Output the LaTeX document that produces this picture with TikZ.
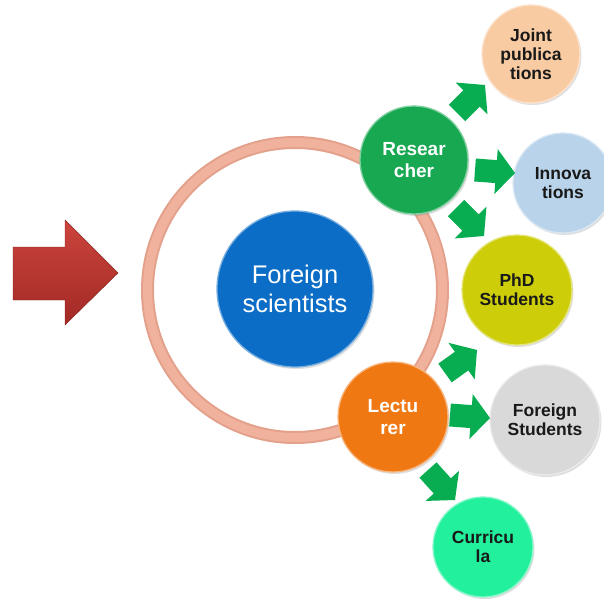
\documentclass[tikz,border=0pt]{standalone}
\usepackage{fontspec}
\setmainfont{Liberation Sans}
\usetikzlibrary{calc,shadows}
\definecolor{ringc}{HTML}{E3A08B}
\definecolor{ringl}{HTML}{F1B29D}
\definecolor{bluec}{HTML}{0B6DC6}
\definecolor{resc}{HTML}{18A852}
\definecolor{lecc}{HTML}{F07812}
\definecolor{jointc}{HTML}{F9CBA2}
\definecolor{innoc}{HTML}{B8D3EA}
\definecolor{phdc}{HTML}{CDCD0A}
\definecolor{fstc}{HTML}{D9D9D9}
\definecolor{curc}{HTML}{22F09C}
\definecolor{arrowg}{HTML}{07AD50}
\definecolor{redtop}{HTML}{CC443D}
\definecolor{redbot}{HTML}{A22925}
\tikzset{
  bubble/.style={circle, inner sep=0pt, align=center, fill=#1, draw=#1!55!white, line width=1.3pt,
    drop shadow={opacity=0.25, shadow xshift=1.5pt, shadow yshift=-2pt}},
  bigtxt/.style={text=white, font=\fontsize{25.5}{29}\selectfont},
  midtxt/.style={text=white, font=\bfseries\fontsize{19}{22}\selectfont},
  smalltxt/.style={text=black!90, font=\bfseries\fontsize{17.5}{19}\selectfont},
}
\newcommand\greenarrow[2]{%
  \coordinate (#1hb) at ($(#2)!19pt!(#1)$);
  \fill[arrowg] ($(#1)!11.5pt!90:(#2)$) -- ($(#1hb)!11.5pt!-90:(#1)$) -- ($(#1hb)!22.5pt!-90:(#1)$)
    -- (#2) -- ($(#1hb)!22.5pt!90:(#1)$) -- ($(#1hb)!11.5pt!90:(#1)$) -- ($(#1)!11.5pt!-90:(#2)$) -- cycle;
}
\begin{document}
\begin{tikzpicture}[x=1pt,y=-1pt]
\useasboundingbox (0,0) rectangle (604,599);
% red arrow
\shade[top color=redtop, bottom color=redbot, draw=redbot!80!black, line width=0.4pt]
  (13,247) -- (65,247) -- (65,220) -- (118,273) -- (65,325) -- (65,300) -- (13,300) -- cycle;
% ring
\node[circle, minimum size=295pt, inner sep=0pt, draw=ringc, line width=13pt] (ring) at (295,290) {};
\draw[ringl, line width=9pt] (ring.center) circle (147.5pt);
% centre
\node[bubble=bluec, minimum size=156pt, bigtxt] (fs) at (295,289) {Foreign\\scientists};
% main roles
\node[bubble=resc, minimum size=108pt, midtxt] (res) at (414,160) {Resear\\cher};
\node[bubble=lecc, minimum size=110pt, midtxt] (lec) at (393,417) {Lectu\\rer};
% outcomes
\node[bubble=jointc, minimum size=98pt, smalltxt] (joint) at (531,54) {Joint\\publica\\tions};
\node[bubble=innoc, minimum size=100pt, smalltxt] (inno) at (563,183) {Innova\\tions};
\node[bubble=phdc, minimum size=110pt, smalltxt] (phd) at (517,290) {PhD\\Students};
\node[bubble=fstc, minimum size=110pt, smalltxt] (fst) at (545,420) {Foreign\\Students};
\node[bubble=curc, minimum size=100pt, smalltxt] (cur) at (483,547) {Curricu\\la};
% green arrows
\coordinate (a1) at (457,113); \coordinate (b1) at (485,85);
\coordinate (a2) at (475,170); \coordinate (b2) at (515,173);
\coordinate (a3) at (456,208); \coordinate (b3) at (484,236);
\coordinate (a4) at (445,373); \coordinate (b4) at (477,350);
\coordinate (a5) at (450,415); \coordinate (b5) at (490,418);
\coordinate (a6) at (428,470); \coordinate (b6) at (455,500);
\greenarrow{a1}{b1}
\greenarrow{a2}{b2}
\greenarrow{a3}{b3}
\greenarrow{a4}{b4}
\greenarrow{a5}{b5}
\greenarrow{a6}{b6}
\end{tikzpicture}
\end{document}
